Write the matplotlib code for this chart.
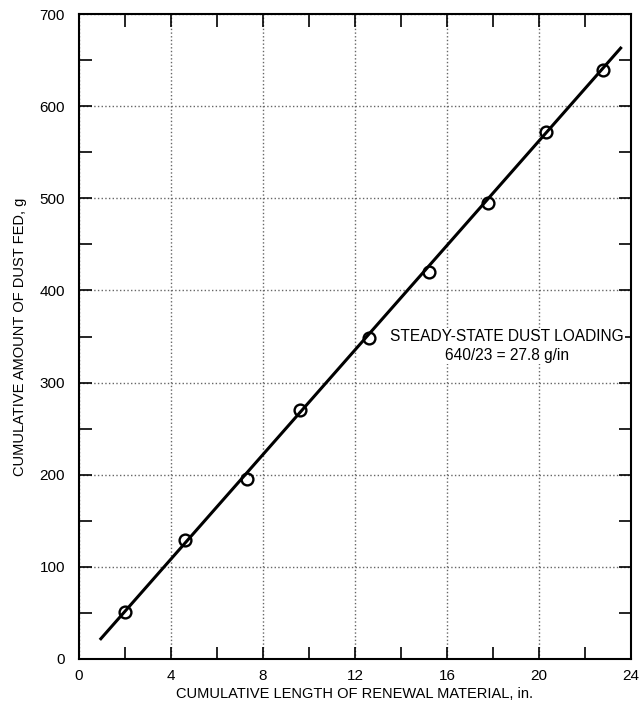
import matplotlib.pyplot as plt
from matplotlib.ticker import MultipleLocator

plt.rcParams['font.family'] = ['Liberation Sans', 'DejaVu Sans']

# measured points
length_in = [2.0, 4.6, 7.3, 9.6, 12.6, 15.2, 17.8, 20.3, 22.8]
dust_g = [51, 129, 195, 270, 348, 420, 495, 572, 639]

# steady-state line end points
line_x = [0.95, 23.55]
line_y = [22, 663]

fig = plt.figure(figsize=(6.44, 7.12), dpi=100)
ax = fig.add_axes([79/644, 53/712, 552/644, 645/712])

ax.plot(line_x, line_y, color='black', lw=2.2, zorder=3)
ax.plot(length_in, dust_g, 'o', mfc='none', mec='black', mew=1.7, ms=8.5, zorder=4)

ax.set_xlim(0, 24)
ax.set_ylim(0, 700)
ax.xaxis.set_major_locator(MultipleLocator(4))
ax.xaxis.set_minor_locator(MultipleLocator(2))
ax.yaxis.set_major_locator(MultipleLocator(100))
ax.yaxis.set_minor_locator(MultipleLocator(50))
ax.tick_params(which='both', direction='in', top=True, right=True, length=9, width=1.2,
               labelsize=11, pad=7)
ax.tick_params(axis='y', pad=10)
ax.grid(True, which='major', linestyle=':', color='#666666', lw=1.0)
for s in ax.spines.values():
    s.set_linewidth(1.5)

ax.set_xlabel('CUMULATIVE LENGTH OF RENEWAL MATERIAL, in.', fontsize=10.5, labelpad=3)
ax.set_ylabel('CUMULATIVE AMOUNT OF DUST FED, g', fontsize=10.5, labelpad=9)

ax.text(18.6, 340, 'STEADY-STATE DUST LOADING\n640/23 = 27.8 g/in', ha='center', va='center',
        fontsize=11.2, linespacing=1.3,
        bbox=dict(facecolor='white', edgecolor='none', pad=1), zorder=2)

fig.savefig('out.png', dpi=100)
